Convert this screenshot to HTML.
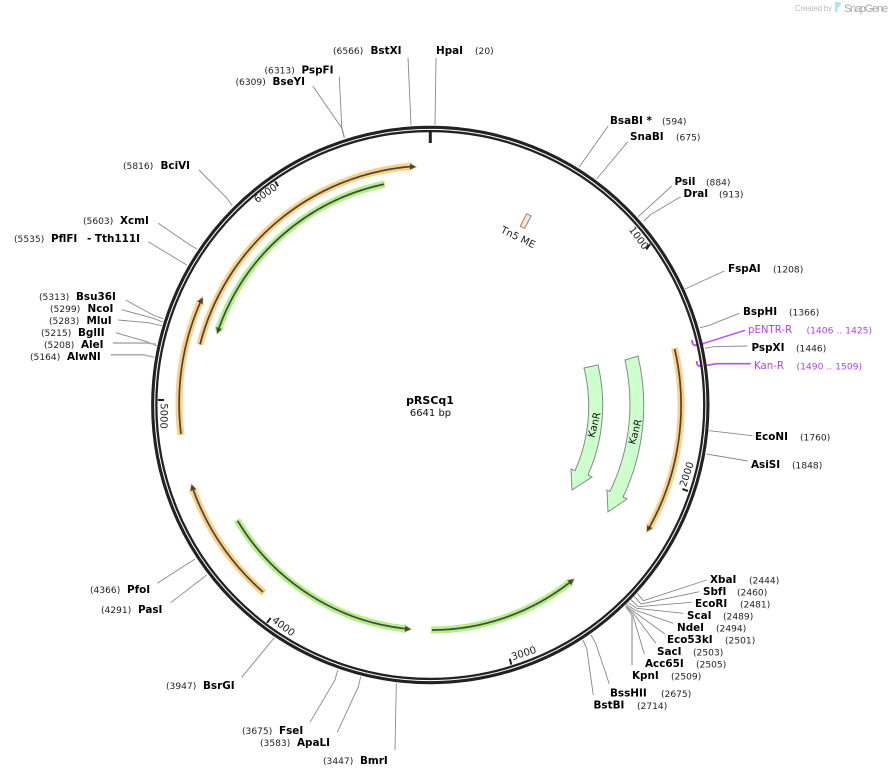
<!DOCTYPE html>
<html>
<head>
<meta charset="utf-8">
<style>
html,body{margin:0;padding:0;background:#fff;}
svg{display:block;}
text{font-family:"DejaVu Sans","Liberation Sans",sans-serif;}
.n{font-size:10.4px;font-weight:bold;fill:#000;}
.p{font-size:9.1px;fill:#222;}
.v{font-size:10.2px;fill:#b23cff;}
.w{font-size:9.2px;fill:#b23cff;}
.t{font-size:10px;fill:#222;text-anchor:middle;dominant-baseline:central;}
.l{fill:none;stroke:#888;stroke-width:.9;}
.h{fill:none;stroke:#aaa;stroke-width:1.5;}
.u{fill:none;stroke:#b84dff;stroke-width:1.4;}
.ob{fill:none;stroke:#ffcf80;stroke-width:7;}
.gb{fill:none;stroke:#b0f084;stroke-width:7;}
.d{fill:none;stroke:#444;stroke-width:1.7;}
.of{fill:#ffcf80;}
.gf{fill:#b0f084;}
.df{fill:#444;}
.k{fill:#ccffcc;stroke:#888;stroke-width:1;}
</style>
</head>
<body>
<svg width="892" height="777" viewBox="0 0 892 777" xmlns="http://www.w3.org/2000/svg">
<rect width="892" height="777" fill="#fff"/>

<!-- logo -->
<text x="795" y="11" style="font-family:'Liberation Sans',sans-serif;font-size:8px;fill:#bdbdbd" textLength="37">Created by</text>
<path d="M835 2 L840 2 Q842 5 839 7 L837.5 8 L837.5 13 L835 12 Z" fill="#b8e0f4"/>
<text x="844" y="12" style="font-family:'Liberation Sans',sans-serif;font-size:11px;fill:#a8a8a8" textLength="44">SnapGene</text>

<!-- connectors -->
<polyline class="l" points="436,57.7 435,125"/>
<polyline class="l" points="408,57.7 411,125"/>
<polyline class="l" points="339.3,76.7 341.7,127 344.3,137"/>
<polyline class="l" points="312.7,86 341.7,128 344.3,138"/>
<polyline class="l" points="199,170 226.7,198 232.3,205.7"/>
<polyline class="l" points="158.3,223.3 190,245 196.7,249"/>
<polyline class="l" points="148.3,241.7 186.7,265"/>
<polyline class="l" points="125.7,300 155,316 163.3,318.7"/>
<polyline class="l" points="121.7,309.7 153.3,318.3 162.7,322"/>
<polyline class="l" points="118.3,320 148.3,322.7 161.7,325.7"/>
<polyline class="l" points="115.7,332.7 146.7,341.7 156.7,345.7"/>
<polyline class="h" points="112.7,343 146.7,343 156,344.3"/>
<polyline class="h" points="110.7,354.7 143.3,354.7 154.3,357.3"/>

<polyline class="l" points="608.3,125.7 579,167.3"/>
<polyline class="l" points="627.7,141.7 596.7,179"/>
<polyline class="l" points="671.7,186 638.3,216.7"/>
<polyline class="l" points="680.7,196.7 650,215 644,221"/>
<polyline class="l" points="724.3,271 685,289"/>
<polyline class="l" points="739.3,313.3 708.3,325.7 700,327.7"/>
<polyline class="l" points="747.3,346 713.3,346.7 705,348.3"/>
<polyline class="u" points="745,330.3 704,343.3"/>
<path class="u" style="stroke-width:1.8" d="M692,340 Q692,345.5 696,345.3 L704,343.5"/>
<polyline class="u" style="stroke-width:1.7" points="750.7,363.7 716.7,363.7 706.7,365.3"/>
<path class="u" style="stroke-width:1.8" d="M696.7,361 Q696.7,366.3 700,366 L706.7,365.3"/>
<polyline class="l" points="752.3,435.7 709.3,430.7"/>
<polyline class="l" points="747.7,461 706.7,454"/>

<polyline class="l" points="706.7,580 643.3,600.7 637.3,593.3"/>
<polyline class="l" points="699.3,591.7 641,604 634,596"/>
<polyline class="l" points="691.7,602.3 638.3,606.7 630.7,599.3"/>
<polyline class="l" points="683.3,613.3 636.7,608.3 628.3,602.7"/>
<polyline class="l" points="673.3,623.3 635,610 626,604.3"/>
<polyline class="l" points="665,634 634,611.7 625.7,605.7"/>
<polyline class="l" points="656,643.3 633.3,613.3 625.7,606.7"/>
<polyline class="l" points="644.3,654 632.7,615 625.7,606.7"/>
<polyline class="h" points="632,665.3 632,615 625.7,606.7"/>
<polyline class="l" points="609.3,684 595.7,643.3 591,635"/>
<polyline class="l" points="593.3,695 586.7,648.3 582.7,640"/>

<polyline class="l" points="157.3,583.3 195,559"/>
<polyline class="l" points="170.7,602.7 206.7,575"/>
<polyline class="l" points="241.7,677.3 274.3,637.7"/>
<polyline class="l" points="310,722.3 335,680 337.7,670"/>
<polyline class="l" points="337.3,732.3 358.3,686.7 360.7,676.7"/>
<polyline class="l" points="395,750 396.3,683.3"/>

<!-- backbone -->
<circle cx="430.3" cy="405" r="276" fill="none" stroke="#222" stroke-width="6.4"/>
<circle cx="430.3" cy="405" r="275.6" fill="none" stroke="#fff" stroke-width="1"/>

<!-- ticks -->
<line x1="430.3" y1="130" x2="430.3" y2="143" stroke="#222" stroke-width="3"/>
<g stroke="#222" stroke-width="2">
<line x1="646.3" y1="249.4" x2="650" y2="244"/>
<line x1="682.4" y1="489" x2="688" y2="491"/>
<line x1="509.8" y1="658.8" x2="511.3" y2="664.6"/>
<line x1="270.7" y1="618" x2="267" y2="622.8"/>
<line x1="164" y1="400" x2="158" y2="400"/>
<line x1="278" y1="186.3" x2="275.2" y2="181.4"/>
</g>
<text class="t" transform="translate(638,238.5) rotate(54)">1000</text>
<text class="t" transform="translate(687.5,474.5) rotate(-71.6)">2000</text>
<text class="t" transform="translate(524,654) rotate(-17.4)">3000</text>
<text class="t" transform="translate(283,627) rotate(36.8)">4000</text>
<text class="t" transform="translate(163,416) rotate(91)">5000</text>
<text class="t" transform="translate(266,194) rotate(-34.7)">6000</text>

<!-- Tn5 ME -->
<rect x="-2.5" y="-7" width="5" height="14" transform="translate(525.7,221) rotate(27.5)" fill="#ffe3c8" stroke="#888" stroke-width="1"/>
<text class="t" transform="translate(517.7,238) rotate(26)">Tn5 ME</text>

<!-- feature arcs -->
<path class="ob" d="M200,344.5 A238,238 0 0 1 408.5,166.5"/>
<polygon class="of" points="417.5,167 408.2,171.5 408.8,161.5"/>
<path class="d" d="M200,344.5 A238,238 0 0 1 410,166.6"/>
<polygon class="df" points="416,167 409.8,169.6 410.2,163.6"/>

<path class="gb" d="M385,184 A225,225 0 0 0 219.2,327.4"/>
<polygon class="gf" points="216.7,335 224,329 214.5,325.8"/>
<path class="d" d="M384,184.2 A225,225 0 0 0 219,328"/>
<polygon class="df" points="217.2,333.5 221.8,329 216.2,327"/>

<path class="ob" d="M181,435 A251,251 0 0 1 199.4,304"/>
<polygon class="of" points="203.3,296 203.9,306.2 194.9,301.9"/>
<path class="d" d="M181,434 A251,251 0 0 1 200.1,302.8"/>
<polygon class="df" points="202.7,297.4 202.8,304.1 197.4,301.5"/>

<path class="ob" d="M264,593 A251,251 0 0 1 193.8,491.6"/>
<polygon class="of" points="191,483 198.6,490 189,493.2"/>
<path class="d" d="M263,592 A251,251 0 0 1 193.3,490.1"/>
<polygon class="df" points="191.5,484.4 196.2,489.2 190.4,491"/>

<path class="gb" d="M237,520 A225,225 0 0 0 403.5,628.6"/>
<polygon class="gf" points="412.5,629.3 403.1,633.6 403.9,623.6"/>
<path class="d" d="M237.6,520.8 A225,225 0 0 0 405,628.7"/>
<polygon class="df" points="411,629.2 404.8,631.7 405.2,625.7"/>

<path class="gb" d="M431,630 A225,225 0 0 0 568.1,583.8"/>
<polygon class="gf" points="575,578 571.3,587.6 564.9,580"/>
<path class="d" d="M432,630 A225,225 0 0 0 569.3,582.8"/>
<polygon class="df" points="573.9,579 571.2,585.1 567.4,580.5"/>

<path class="ob" d="M674.5,348 A251,251 0 0 1 650.6,525.3"/>
<polygon class="of" points="646,533 654.9,527.9 646.3,522.7"/>
<path class="d" d="M674.7,349 A251,251 0 0 1 649.8,526.6"/>
<polygon class="df" points="646.8,531.7 652.4,528.1 647.2,525.1"/>

<!-- KanR -->
<path class="k" d="M584,368 A158.4,158.4 0 0 1 575,470.7 L571,469 L572,490 L592,477 L588,475 A173,173 0 0 0 598,365 Z"/>
<path class="k" d="M625,360 A200,200 0 0 1 610,491.4 L607,490 L608,512 L627,499 L623,497 A213.7,213.7 0 0 0 638,356 Z"/>
<text class="t" style="fill:#111" transform="translate(595,425) rotate(-76)">KanR</text>
<text class="t" style="fill:#111" transform="translate(636,432) rotate(-74)">KanR</text>

<!-- center -->
<text x="430" y="404" text-anchor="middle" style="font-size:11px;font-weight:bold;fill:#000">pRSCq1</text>
<text x="430.5" y="416" text-anchor="middle" style="font-size:10px;fill:#111">6641 bp</text>

<!-- labels -->
<text class="p" x="333" y="54">(6566)</text><text class="n" x="370.5" y="54">BstXI</text>
<text class="n" x="436" y="54">HpaI</text><text class="p" x="475" y="54">(20)</text>
<text class="p" x="264.5" y="73.5">(6313)</text><text class="n" x="301.5" y="73.5">PspFI</text>
<text class="p" x="235.5" y="85">(6309)</text><text class="n" x="272.5" y="85">BseYI</text>
<text class="p" x="123" y="169">(5816)</text><text class="n" x="160.5" y="169">BciVI</text>
<text class="p" x="83" y="224">(5603)</text><text class="n" x="120" y="224">XcmI</text>
<text class="p" x="14" y="242">(5535)</text><text class="n" x="51" y="242">PflFI</text><text class="n" x="87" y="242">- Tth111I</text>
<text class="p" x="39" y="300">(5313)</text><text class="n" x="76" y="300">Bsu36I</text>
<text class="p" x="50" y="312">(5299)</text><text class="n" x="87.5" y="312">NcoI</text>
<text class="p" x="49" y="324">(5283)</text><text class="n" x="86.5" y="324">MluI</text>
<text class="p" x="41" y="336">(5215)</text><text class="n" x="78" y="336">BglII</text>
<text class="p" x="44" y="348">(5208)</text><text class="n" x="81" y="348">AleI</text>
<text class="p" x="30" y="360">(5164)</text><text class="n" x="67" y="360">AlwNI</text>

<text class="n" x="610" y="124">BsaBI *</text><text class="p" x="662" y="124.5">(594)</text>
<text class="n" x="630" y="140">SnaBI</text><text class="p" x="676" y="140.5">(675)</text>
<text class="n" x="674.5" y="185">PsiI</text><text class="p" x="706" y="185.5">(884)</text>
<text class="n" x="683.5" y="197">DraI</text><text class="p" x="719" y="197.5">(913)</text>
<text class="n" x="728" y="272">FspAI</text><text class="p" x="773" y="272.5">(1208)</text>
<text class="n" x="743" y="315">BspHI</text><text class="p" x="789" y="315.5">(1366)</text>
<text class="v" x="748" y="333">pENTR-R</text><text class="w" x="806.5" y="333.5">(1406 .. 1425)</text>
<text class="n" x="751.5" y="351">PspXI</text><text class="p" x="796" y="351.5">(1446)</text>
<text class="v" x="754" y="369">Kan-R</text><text class="w" x="796.5" y="369.5">(1490 .. 1509)</text>
<text class="n" x="755" y="440">EcoNI</text><text class="p" x="800" y="440.5">(1760)</text>
<text class="n" x="751" y="468">AsiSI</text><text class="p" x="792" y="468.5">(1848)</text>

<text class="n" x="710" y="583">XbaI</text><text class="p" x="749" y="583.5">(2444)</text>
<text class="n" x="703" y="595">SbfI</text><text class="p" x="737" y="595.5">(2460)</text>
<text class="n" x="695" y="607">EcoRI</text><text class="p" x="740" y="607.5">(2481)</text>
<text class="n" x="687" y="619">ScaI</text><text class="p" x="723" y="619.5">(2489)</text>
<text class="n" x="677" y="631">NdeI</text><text class="p" x="716" y="631.5">(2494)</text>
<text class="n" x="667" y="643">Eco53kI</text><text class="p" x="725" y="643.5">(2501)</text>
<text class="n" x="657" y="655">SacI</text><text class="p" x="693" y="655.5">(2503)</text>
<text class="n" x="645" y="667">Acc65I</text><text class="p" x="696" y="667.5">(2505)</text>
<text class="n" x="632" y="679">KpnI</text><text class="p" x="671" y="679.5">(2509)</text>
<text class="n" x="610" y="696.5">BssHII</text><text class="p" x="661" y="697">(2675)</text>
<text class="n" x="593.5" y="708.5">BstBI</text><text class="p" x="637" y="709">(2714)</text>

<text class="p" x="166" y="689">(3947)</text><text class="n" x="203" y="689">BsrGI</text>
<text class="p" x="242" y="734">(3675)</text><text class="n" x="279" y="734">FseI</text>
<text class="p" x="260" y="746">(3583)</text><text class="n" x="297" y="746">ApaLI</text>
<text class="p" x="323" y="764">(3447)</text><text class="n" x="360" y="764">BmrI</text>
<text class="p" x="90" y="593">(4366)</text><text class="n" x="127" y="593">PfoI</text>
<text class="p" x="101" y="613">(4291)</text><text class="n" x="138" y="613">PasI</text>
</svg>
</body>
</html>
